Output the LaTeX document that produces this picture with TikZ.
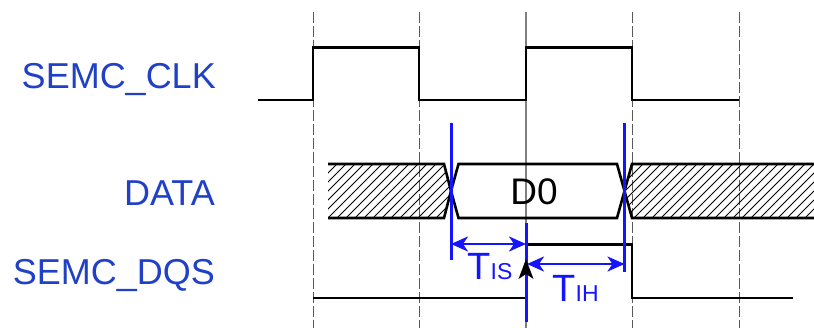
\documentclass[tikz,border=0pt]{standalone}
\usepackage{fontspec}
\setmainfont{Liberation Sans}
\usetikzlibrary{arrows.meta}
\definecolor{lblue}{RGB}{32,64,200}
\definecolor{mblue}{RGB}{20,20,255}
\tikzset{
  grid/.style={draw=black!65, line width=1pt, dash pattern=on 11pt off 3pt},
  gridsolid/.style={draw=black!50, line width=1.2pt},
  wave/.style={draw=black, line width=2.6pt, line join=miter},
  hatch/.style={draw=black, line width=0.9pt},
  bluemark/.style={draw=mblue, line width=3pt},
  dim/.style={draw=mblue, line width=2.6pt, {Stealth[length=17pt,width=15pt,inset=5pt]}-{Stealth[length=17pt,width=15pt,inset=5pt]}},
  siglabel/.style={anchor=base east, inner sep=0pt, text=lblue, font=\fontsize{36}{36}\selectfont},
  timelabel/.style={anchor=base, inner sep=0pt, text=mblue},
}
\begin{document}
\begin{tikzpicture}[x=1pt,y=-1pt]
\useasboundingbox (0,0) rectangle (814,328);
% grid
\foreach \gx in {313,419,632,739} \draw[grid] (\gx,12) -- (\gx,328);
\draw[gridsolid] (526,12) -- (526,328);
% labels
\node[siglabel] (lclk) at (216,89) {SEMC\_CLK};
\node[siglabel] (ldata) at (215,205.5) {DATA};
\node[siglabel] (ldqs) at (215,285) {SEMC\_DQS};
% clock
\draw[wave] (258,100) -- (313,100) -- (313,47.7) -- (419,47.7) -- (419,100) -- (526,100) -- (526,47.7) -- (632,47.7) -- (632,100) -- (739,100);
% data hatch
\begin{scope}
\clip (328,164) -- (444,164) -- (451,191) -- (444,218) -- (328,218) -- cycle
      (814,164) -- (632,164) -- (624.5,191) -- (632,218) -- (814,218) -- cycle;
\foreach \hx in {274,283,...,820} \draw[hatch] (\hx,218) -- (\hx+54,164);
\end{scope}
\draw[wave] (328,164) -- (444,164) -- (451,191) -- (444,218) -- (328,218);
\draw[wave] (814,164) -- (632,164) -- (624.5,191) -- (632,218) -- (814,218);
\draw[wave] (458.5,164) -- (617,164) -- (624.5,191) -- (617,218) -- (458.5,218) -- (451,191) -- cycle;
\node[anchor=base, inner sep=0pt, font=\fontsize{37}{37}\selectfont] (d0) at (534,205) {D0};
% DQS
\draw[wave] (313,298) -- (526,298) -- (526,244.5) -- (632,244.5) -- (632,298) -- (793,298);
% blue markers
\coordinate (bl) at (451,244);
\coordinate (bc) at (526,244);
\coordinate (bc2) at (527,264);
\coordinate (br) at (624.5,264);
\draw[bluemark] (451,123) -- (451,260);
\draw[bluemark] (624.5,123) -- (624.5,272);
\draw[bluemark] (526,223) -- (526,322);
\draw[dim] (bl) -- (bc);
\draw[dim] (bc2) -- (br);
\fill[black] (526,259) -- (533.5,279) -- (526,274) -- (518.5,279) -- cycle;
\node[timelabel] (tis) at (490,280) {\fontsize{38}{38}\selectfont T\fontsize{23}{23}\selectfont IS};
\node[timelabel] (tih) at (575.5,302) {\fontsize{38}{38}\selectfont T\fontsize{23}{23}\selectfont IH};
\end{tikzpicture}
\end{document}
